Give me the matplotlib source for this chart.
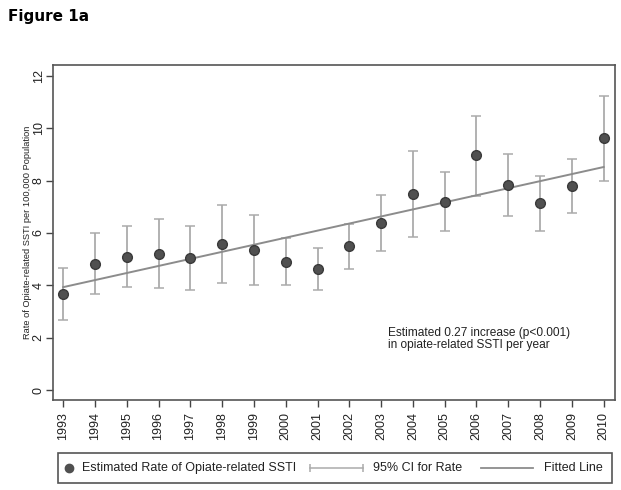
import numpy as np
import matplotlib.pyplot as plt
from matplotlib.lines import Line2D
from matplotlib.patches import Rectangle

plt.rcParams['font.family'] = ['Liberation Sans', 'DejaVu Sans']

years = np.arange(1993, 2011)
rate = [3.66, 4.81, 5.09, 5.20, 5.04, 5.57, 5.35, 4.91, 4.62,
        5.51, 6.39, 7.50, 7.20, 8.96, 7.84, 7.14, 7.81, 9.62]
ci_low = [2.67, 3.66, 3.92, 3.88, 3.82, 4.07, 4.01, 4.03, 3.84,
          4.64, 5.31, 5.85, 6.08, 7.43, 6.64, 6.06, 6.78, 8.00]
ci_high = [4.66, 5.98, 6.26, 6.53, 6.26, 7.06, 6.68, 5.80, 5.41,
           6.36, 7.45, 9.15, 8.32, 10.48, 9.02, 8.18, 8.82, 11.22]
fit_years = [1993, 2010]
fit_values = [3.93, 8.52]

dot_col = '#505050'
ci_col = '#ababab'
fit_col = '#8c8c8c'
txt_col = '#222222'

fig = plt.figure(figsize=(6.21, 4.9), dpi=100)
ax = fig.add_axes([0.0853, 0.1837, 0.9047, 0.6833])

rate = np.array(rate)
yerr = [rate - np.array(ci_low), np.array(ci_high) - rate]
ax.errorbar(years, rate, yerr=yerr, fmt='none', ecolor=ci_col,
            elinewidth=1.3, capsize=3.6, capthick=1.1, zorder=2)
ax.plot(fit_years, fit_values, color=fit_col, lw=1.4, zorder=3)
ax.plot(years, rate, 'o', color=dot_col, markeredgecolor='#3a3a3a',
        markersize=7, zorder=4)

ax.set_xlim(1992.68, 2010.35)
ax.set_ylim(-0.38, 12.41)
ax.set_xticks(years)
ax.set_xticklabels([str(y) for y in years], rotation=90, fontsize=9)
ax.set_yticks(range(0, 13, 2))
ax.set_yticklabels([str(v) for v in range(0, 13, 2)], rotation=90,
                   va='center', fontsize=9)
ax.tick_params(direction='out', length=5, width=1, color='#444444',
               labelcolor=txt_col)
ax.tick_params(axis='y', pad=1)
for s in ax.spines.values():
    s.set_color('#555555')
    s.set_linewidth(1.2)

ax.set_ylabel('Rate of Opiate-related SSTI per 100,000 Population',
              fontsize=6.7, color=txt_col)
ax.yaxis.set_label_coords(-0.037, 0.5)

ax.text(0.597, 0.182, 'Estimated 0.27 increase (p<0.001)\nin opiate-related SSTI per year',
        transform=ax.transAxes, fontsize=8.6, color=txt_col,
        linespacing=1.0, va='center', ha='left')

# legend drawn by hand below the axes
tf = fig.transFigure
ly = 0.045
fig.add_artist(Rectangle((0.0934, 0.0143), 0.8921, 0.0612, transform=tf,
                         fill=False, edgecolor='#555555', lw=1.2))
fig.add_artist(Line2D([0.111], [ly], transform=tf, ls='none', marker='o',
                      color=dot_col, markersize=6))
fig.text(0.132, ly, 'Estimated Rate of Opiate-related SSTI', fontsize=9,
         color=txt_col, va='center', ha='left')
fig.add_artist(Line2D([0.499, 0.5845], [ly, ly], transform=tf, color=ci_col,
                      lw=1.1, marker='|', markersize=6, markeredgewidth=1.1))
fig.text(0.6006, ly, '95% CI for Rate', fontsize=9, color=txt_col,
         va='center', ha='left')
fig.add_artist(Line2D([0.7746, 0.8583], [ly, ly], transform=tf, color=fit_col,
                      lw=1.3))
fig.text(0.876, ly, 'Fitted Line', fontsize=9, color=txt_col,
         va='center', ha='left')

fig.text(0.013, 0.967, 'Figure 1a', fontsize=11, fontweight='bold',
         family='DejaVu Sans', va='center', ha='left')

fig.savefig('out.png', dpi=100)
